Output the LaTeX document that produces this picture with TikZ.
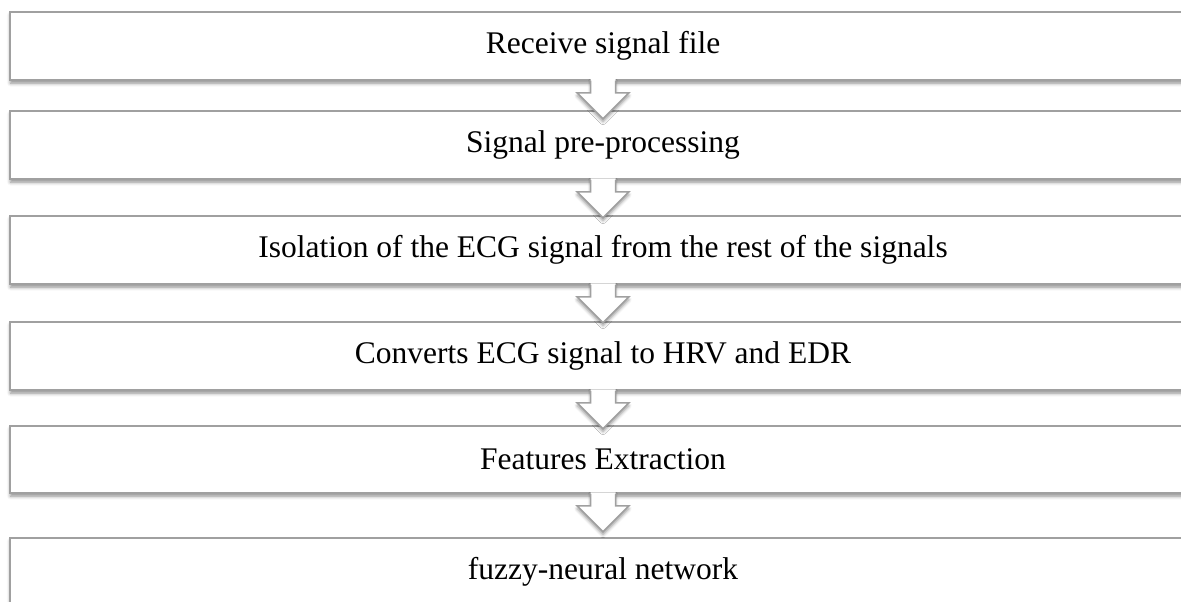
\documentclass[tikz,border=0pt]{standalone}
\usepackage{fontspec}
\setmainfont{Liberation Serif}
\usetikzlibrary{shadows.blur}
\definecolor{edgegray}{RGB}{160,160,160}
\tikzset{
  stepbox/.style={draw=edgegray, line width=1.5pt, fill=white,
    minimum width=1186pt, minimum height=68pt, inner sep=0pt,
    font=\fontsize{31.5}{36}\selectfont,
    blur shadow={shadow xshift=0.5pt, shadow yshift=-3pt, shadow blur radius=3.5pt, shadow opacity=45}},
  arrowline/.style={draw=edgegray, line width=1.5pt, line join=miter},
  blockarrow/.pic={
    \fill[white, blur shadow={shadow xshift=0pt, shadow yshift=-3pt, shadow blur radius=3pt, shadow opacity=40}]
      (-12.5,-1.5) -- (-12.5,12) -- (-26,12) -- (0,38) -- (26,12) -- (12.5,12) -- (12.5,-1.5) -- cycle;
    \draw[arrowline] (-12.5,0) -- (-12.5,12) -- (-26,12) -- (0,38) -- (26,12) -- (12.5,12) -- (12.5,0);
  }
}
\begin{document}
\begin{tikzpicture}[x=1pt,y=-1pt]
\useasboundingbox (0,0) rectangle (1181,602);
\node[stepbox] (b1) at (603,46) {Receive signal file};
\node[stepbox] (b2) at (603,145) {Signal pre-processing};
\node[stepbox] (b3) at (603,250) {Isolation of the ECG signal from the rest of the signals};
\node[stepbox] (b4) at (603,356) {Converts ECG signal to HRV and EDR};
\node[stepbox, minimum height=67pt] (b5) at (603,459.5) {Features Extraction};
\node[stepbox] (b6) at (603,572) {fuzzy-neural network};
\pic at (b1.south) {blockarrow};
\pic at (b2.south) {blockarrow};
\pic at (b3.south) {blockarrow};
\pic at (b4.south) {blockarrow};
\pic at (b5.south) {blockarrow};
\end{tikzpicture}
\end{document}
